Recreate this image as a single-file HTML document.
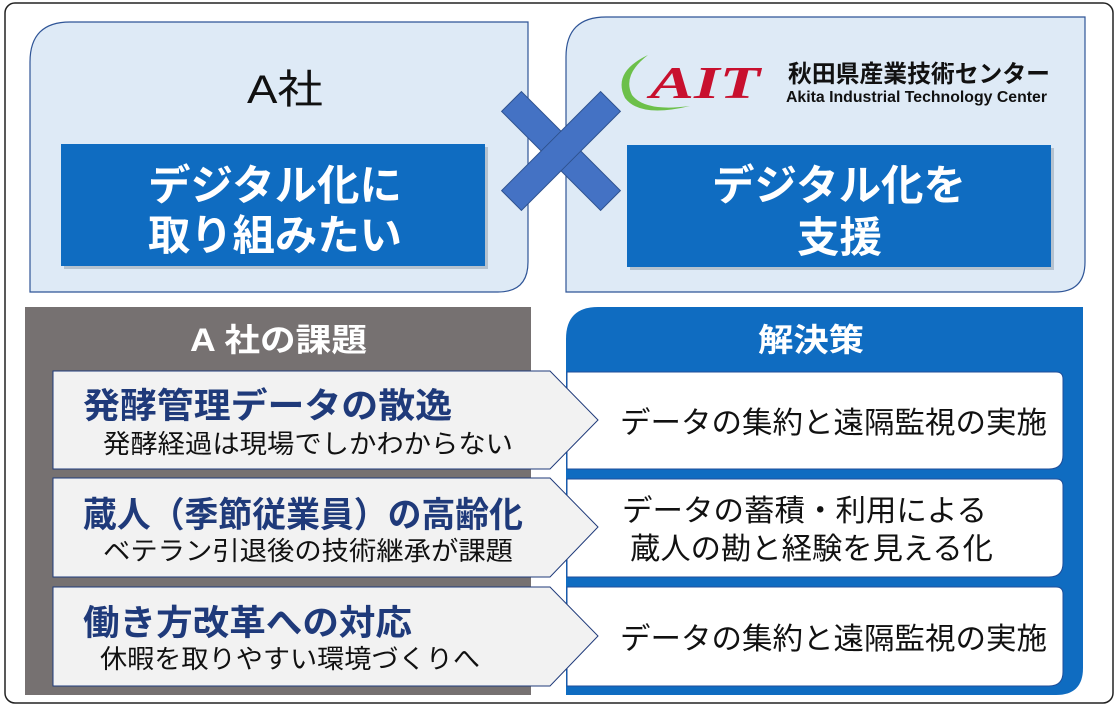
<!DOCTYPE html>
<html><head><meta charset="utf-8"><style>
html,body{margin:0;padding:0;background:#fff;}
svg{display:block;}
text{font-family:"Liberation Sans","Noto Sans CJK JP",sans-serif;}
</style></head><body>
<svg width="1120" height="710" viewBox="0 0 1120 710" xmlns="http://www.w3.org/2000/svg">
<rect x="5" y="3" width="1108" height="700" rx="10" fill="#fff" stroke="#222" stroke-width="1.5"/>
<path d="M70,22 H528 V262 Q528,292 498,292 H30 V62 Q30,22 70,22 Z" fill="#deeaf6" stroke="#2f5597" stroke-width="1.2"/>
<path d="M606,17 H1085 V262 Q1085,292 1055,292 H566 V57 Q566,17 606,17 Z" fill="#deeaf6" stroke="#2f5597" stroke-width="1.2"/>
<text x="247" y="103" font-size="40" textLength="76" lengthAdjust="spacingAndGlyphs" fill="#111">A社</text>
<rect x="64" y="147" width="424" height="122" fill="#9aa7b5" opacity="0.6"/>
<rect x="61" y="144" width="424" height="122" fill="#0f6cc1"/>
<text x="148" y="200" font-size="42" font-weight="bold" textLength="254" lengthAdjust="spacingAndGlyphs" fill="#fff">デジタル化に</text>
<text x="148" y="250" font-size="42" font-weight="bold" textLength="254" lengthAdjust="spacingAndGlyphs" fill="#fff">取り組みたい</text>
<rect x="630" y="148" width="424" height="122" fill="#9aa7b5" opacity="0.6"/>
<rect x="627" y="145" width="424" height="122" fill="#0f6cc1"/>
<text x="712" y="200" font-size="42" font-weight="bold" textLength="254" lengthAdjust="spacingAndGlyphs" fill="#fff">デジタル化を</text>
<text x="797" y="252" font-size="42" font-weight="bold" textLength="85" lengthAdjust="spacingAndGlyphs" fill="#fff">支援</text>
<g transform="translate(561,151) rotate(45)">
<rect x="-70" y="-14" width="140" height="28" fill="#4472c4" stroke="#2f528f" stroke-width="1"/>
<rect x="-14" y="-70" width="28" height="140" fill="#4472c4" stroke="#2f528f" stroke-width="1"/>
<rect x="-13.5" y="-13.5" width="27" height="27" fill="#4472c4"/>
</g>
<path d="M648,55 Q612,72 625,98 Q640,118 690,106 Q645,112 632,95 Q622,75 648,55 Z" fill="#6cc04a"/>
<text x="650" y="98" font-size="46" font-weight="bold" font-style="italic" textLength="110" lengthAdjust="spacingAndGlyphs" fill="#c8102e" style="font-family:'Liberation Serif',serif">AIT</text>
<text x="788" y="82" font-size="24" font-weight="bold" textLength="262" lengthAdjust="spacingAndGlyphs" fill="#111">秋田県産業技術センター</text>
<text x="786" y="102" font-size="16" font-weight="bold" textLength="261" lengthAdjust="spacingAndGlyphs" fill="#111">Akita Industrial Technology Center</text>
<rect x="25" y="307" width="506" height="388" fill="#767171"/>
<text x="190" y="351" font-size="32" font-weight="bold" textLength="177" lengthAdjust="spacingAndGlyphs" fill="#fff">A 社の課題</text>
<path d="M598,307 H1083 V668 Q1083,695 1056,695 H566 V339 Q566,307 598,307 Z" fill="#0f6cc1"/>
<text x="758" y="351" font-size="32" font-weight="bold" textLength="106" lengthAdjust="spacingAndGlyphs" fill="#fff">解決策</text>
<g fill="#fff" stroke="#1f4e9a" stroke-width="1">
<path d="M567,372 H1056 Q1063,372 1063,379 V455 Q1063,469 1049,469 H567 Z"/>
<path d="M567,479 H1056 Q1063,479 1063,486 V563 Q1063,577 1049,577 H567 Z"/>
<path d="M567,587 H1056 Q1063,587 1063,594 V672 Q1063,686 1049,686 H567 Z"/>
</g>
<g fill="#f2f2f2" stroke="#1f3a7a" stroke-width="1">
<path d="M53,371 H550 L598,420 L550,469 H53 Z"/>
<path d="M53,478 H550 L598,527 L550,577 H53 Z"/>
<path d="M53,587 H550 L598,636 L550,686 H53 Z"/>
</g>
<g fill="#1f3a7a" font-weight="bold" font-size="35">
<text x="83" y="418" textLength="369" lengthAdjust="spacingAndGlyphs">発酵管理データの散逸</text>
<text x="83" y="527" textLength="440" lengthAdjust="spacingAndGlyphs">蔵人（季節従業員）の高齢化</text>
<text x="83" y="635" textLength="329" lengthAdjust="spacingAndGlyphs">働き方改革への対応</text>
</g>
<g fill="#111" font-size="26">
<text x="103" y="453" textLength="410" lengthAdjust="spacingAndGlyphs">発酵経過は現場でしかわからない</text>
<text x="103" y="560" textLength="410" lengthAdjust="spacingAndGlyphs">ベテラン引退後の技術継承が課題</text>
<text x="100" y="668" textLength="380" lengthAdjust="spacingAndGlyphs">休暇を取りやすい環境づくりへ</text>
</g>
<g fill="#111" font-size="30">
<text x="620" y="433" textLength="427" lengthAdjust="spacingAndGlyphs">データの集約と遠隔監視の実施</text>
<text x="622" y="521" textLength="365" lengthAdjust="spacingAndGlyphs">データの蓄積・利用による</text>
<text x="630" y="559" textLength="363" lengthAdjust="spacingAndGlyphs">蔵人の勘と経験を見える化</text>
<text x="620" y="649" textLength="427" lengthAdjust="spacingAndGlyphs">データの集約と遠隔監視の実施</text>
</g>
</svg>
</body></html>
